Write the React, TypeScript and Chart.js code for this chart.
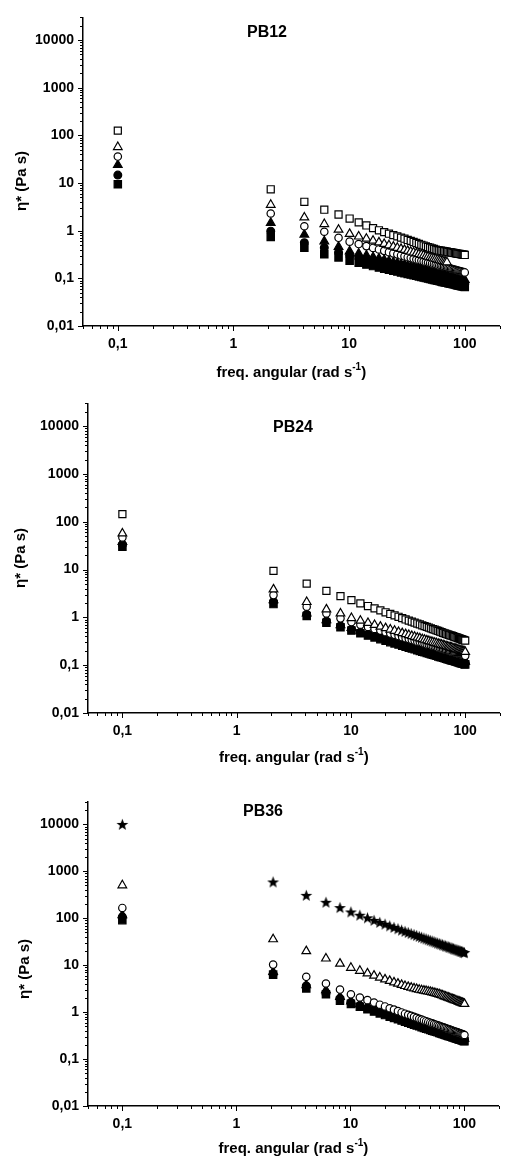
import React, { useEffect, useRef } from 'react';
import { Chart, registerables } from 'chart.js';

Chart.register(...registerables);

// ---------- data ----------
const freq = [0.1, 2.1, 4.1, 6.1, 8.1, 10.1, 12.1, 14.1, 16.1, 18.1, 20.1, 22.1, 24.1, 26.1, 28.1, 30.1, 32.1, 34.1, 36.1, 38.1, 40.1, 42.1, 44.1, 46.1, 48.1, 50.1, 52.1, 54.1, 56.1, 58.1, 60.1, 62.1, 64.1, 66.1, 68.1, 70.1, 72.1, 74.1, 76.1, 78.1, 80.1, 82.1, 84.1, 86.1, 88.1, 90.1, 92.1, 94.1, 96.1, 98.1, 100];

const xTickValues = [0.1, 1, 10, 100];
const xTickLabels = ['0,1', '1', '10', '100'];
const yTickValues = [0.01, 0.1, 1, 10, 100, 1000, 10000];
const yTickLabels = ['0,01', '0,1', '1', '10', '100', '1000', '10000'];

const panelTitles = ['PB12', 'PB24', 'PB36'];
const xAxisTitle = 'freq. angular (rad s';
const xAxisTitleSup = '-1';
const yAxisTitle = 'η* (Pa s)';

// PB12
const pb12SqOpen = [126, 7.4, 4.05, 2.76, 2.19, 1.8, 1.5, 1.29, 1.13, 1.02, 0.935, 0.865, 0.81, 0.76, 0.715, 0.68, 0.64, 0.61, 0.58, 0.553, 0.528, 0.507, 0.488, 0.47, 0.454, 0.44, 0.427, 0.414, 0.402, 0.392, 0.385, 0.38, 0.375, 0.371, 0.366, 0.362, 0.357, 0.353, 0.35, 0.345, 0.341, 0.338, 0.334, 0.331, 0.328, 0.325, 0.322, 0.318, 0.315, 0.313, 0.31];
const pb12TriOpen = [57, 3.5, 1.9, 1.38, 1.05, 0.86, 0.756, 0.679, 0.617, 0.568, 0.528, 0.494, 0.464, 0.438, 0.415, 0.396, 0.378, 0.362, 0.348, 0.335, 0.323, 0.312, 0.303, 0.292, 0.284, 0.276, 0.268, 0.261, 0.255, 0.248, 0.243, 0.237, 0.231, 0.227, 0.222, 0.217, null, null, null, null, null, null, null, null, null, null, null, null, null, null, null];
const pb12CirOpen = [36, 2.3, 1.24, 0.95, 0.71, 0.59, 0.525, 0.475, 0.435, 0.404, 0.378, 0.355, 0.335, 0.319, 0.303, 0.29, 0.278, 0.267, 0.258, 0.249, 0.241, 0.233, 0.227, 0.219, 0.214, 0.208, 0.203, 0.198, 0.194, 0.189, 0.185, 0.181, 0.178, 0.174, 0.171, 0.168, 0.165, 0.162, 0.159, 0.156, 0.153, 0.151, 0.149, 0.146, 0.144, 0.142, 0.14, 0.138, 0.136, 0.135, 0.133];
const pb12TriFill = [24, 1.46, 0.83, 0.6, 0.46, 0.37, 0.332, 0.303, 0.279, 0.261, 0.245, 0.231, 0.219, 0.209, 0.2, 0.192, 0.185, 0.178, 0.172, 0.167, 0.162, 0.157, 0.153, 0.149, 0.145, 0.141, 0.138, 0.135, 0.132, 0.13, 0.127, 0.125, 0.122, 0.12, 0.118, 0.116, 0.114, 0.112, 0.11, 0.108, 0.107, 0.105, 0.104, 0.102, 0.101, 0.0995, 0.098, 0.097, 0.096, 0.094, 0.093];
const pb12CirFill = [14.7, 0.98, 0.56, 0.44, 0.35, 0.3, 0.269, 0.245, 0.227, 0.212, 0.199, 0.188, 0.178, 0.17, 0.162, 0.156, 0.15, 0.145, 0.14, 0.135, 0.131, 0.128, 0.124, 0.121, 0.118, 0.115, 0.112, 0.11, 0.107, 0.105, 0.103, 0.101, 0.099, 0.097, 0.095, 0.094, 0.092, 0.091, 0.089, 0.088, 0.086, 0.085, 0.084, 0.083, 0.082, 0.081, 0.08, 0.079, 0.078, 0.077, 0.076];
const pb12SqFill = [9.4, 0.74, 0.44, 0.32, 0.275, 0.234, 0.212, 0.195, 0.181, 0.169, 0.16, 0.152, 0.145, 0.139, 0.133, 0.128, 0.124, 0.12, 0.116, 0.113, 0.11, 0.107, 0.104, 0.102, 0.099, 0.097, 0.095, 0.093, 0.091, 0.089, 0.088, 0.086, 0.084, 0.083, 0.082, 0.0805, 0.079, 0.078, 0.077, 0.076, 0.075, 0.074, 0.073, 0.072, 0.071, 0.07, 0.069, 0.0686, 0.068, 0.067, 0.066];

// PB24
const pb24SqOpen = [145, 9.4, 5.1, 3.6, 2.79, 2.3, 1.97, 1.73, 1.54, 1.4, 1.28, 1.18, 1.1, 1.03, 0.964, 0.906, 0.858, 0.817, 0.777, 0.745, 0.713, 0.683, 0.658, 0.633, 0.61, 0.589, 0.57, 0.552, 0.536, 0.52, 0.504, 0.49, 0.476, 0.465, 0.453, 0.442, 0.432, 0.423, 0.414, 0.405, 0.396, 0.388, 0.38, 0.373, 0.366, 0.359, 0.352, 0.345, 0.338, 0.333, 0.327];
const pb24TriOpen = [57, 3.85, 2.1, 1.47, 1.21, 0.97, 0.853, 0.765, 0.696, 0.641, 0.596, 0.557, 0.524, 0.494, 0.469, 0.446, 0.427, 0.408, 0.393, 0.377, 0.365, 0.352, 0.341, 0.33, 0.32, 0.311, 0.303, 0.294, 0.287, 0.279, 0.274, 0.267, 0.261, 0.256, 0.25, 0.244, 0.241, 0.236, 0.231, 0.227, 0.223, 0.219, 0.215, 0.211, 0.209, 0.205, 0.202, 0.199, 0.196, 0.193, 0.19];
const pb24CirOpen = [47, 2.93, 1.67, 1.21, 0.955, 0.8, 0.703, 0.631, 0.574, 0.529, 0.491, 0.459, 0.432, 0.407, 0.386, 0.368, 0.352, 0.337, 0.324, 0.311, 0.301, 0.29, 0.282, 0.272, 0.264, 0.257, 0.25, 0.242, 0.237, 0.23, 0.226, 0.22, 0.215, 0.211, 0.206, 0.202, 0.198, 0.194, 0.19, 0.187, 0.184, 0.181, 0.178, 0.174, 0.172, 0.169, 0.166, 0.164, 0.162, 0.159, 0.157];
const pb24TriFill = [38, 2.3, 1.21, 0.88, 0.69, 0.6, 0.527, 0.473, 0.431, 0.397, 0.368, 0.344, 0.324, 0.305, 0.29, 0.276, 0.264, 0.253, 0.243, 0.233, 0.226, 0.218, 0.211, 0.204, 0.198, 0.193, 0.187, 0.182, 0.178, 0.173, 0.169, 0.165, 0.161, 0.158, 0.155, 0.151, 0.149, 0.146, 0.143, 0.14, 0.138, 0.136, 0.133, 0.131, 0.129, 0.127, 0.125, 0.123, 0.121, 0.119, 0.118];
const pb24CirFill = [33, 2.13, 1.15, 0.83, 0.66, 0.56, 0.492, 0.442, 0.402, 0.37, 0.344, 0.321, 0.302, 0.285, 0.27, 0.258, 0.246, 0.236, 0.227, 0.218, 0.211, 0.203, 0.197, 0.19, 0.185, 0.18, 0.175, 0.17, 0.166, 0.161, 0.158, 0.154, 0.151, 0.148, 0.144, 0.141, 0.139, 0.136, 0.133, 0.131, 0.129, 0.127, 0.124, 0.122, 0.12, 0.118, 0.116, 0.115, 0.113, 0.111, 0.11];
const pb24SqFill = [30, 1.9, 1.07, 0.77, 0.62, 0.53, 0.466, 0.418, 0.381, 0.35, 0.325, 0.304, 0.286, 0.27, 0.256, 0.244, 0.233, 0.223, 0.215, 0.206, 0.199, 0.192, 0.187, 0.18, 0.175, 0.17, 0.165, 0.161, 0.157, 0.153, 0.149, 0.146, 0.143, 0.14, 0.137, 0.134, 0.131, 0.129, 0.126, 0.124, 0.122, 0.12, 0.118, 0.116, 0.114, 0.112, 0.11, 0.109, 0.107, 0.105, 0.104];

// PB36
const pb36Star = [10000, 593, 308, 219, 169, 136, 116, 102, 90.4, 81.7, 74.8, 68.8, 63.8, 59.6, 55.8, 52.5, 49.6, 47.2, 44.9, 42.8, 40.9, 39.3, 37.7, 36.3, 35, 33.7, 32.6, 31.6, 30.6, 29.6, 28.8, 28, 27.2, 26.5, 25.8, 25.2, 24.6, 24.1, 23.5, 23, 22.4, 21.9, 21.5, 21.1, 20.7, 20.3, 19.9, 19.6, 19.2, 18.8, 18.5];
const pb36TriOpen = [504, 35.7, 19.9, 13.9, 10.8, 8.8, 7.59, 6.7, 6.0, 5.45, 5.0, 4.63, 4.31, 4.05, 3.81, 3.6, 3.45, 3.32, 3.2, 3.1, 3.0, 2.93, 2.87, 2.81, 2.75, 2.7, 2.63, 2.57, 2.51, 2.45, 2.4, 2.33, 2.26, 2.2, 2.14, 2.09, 2.04, 1.99, 1.94, 1.89, 1.85, 1.81, 1.77, 1.73, 1.69, 1.66, 1.62, 1.59, 1.56, 1.53, 1.5];
const pb36CirOpen = [166, 10.3, 5.65, 4.07, 3.03, 2.4, 2.05, 1.8, 1.6, 1.44, 1.32, 1.21, 1.13, 1.05, 0.984, 0.926, 0.876, 0.833, 0.792, 0.756, 0.722, 0.694, 0.665, 0.641, 0.617, 0.595, 0.576, 0.557, 0.54, 0.523, 0.509, 0.494, 0.48, 0.468, 0.456, 0.444, 0.434, 0.425, 0.415, 0.406, 0.396, 0.386, 0.379, 0.372, 0.365, 0.358, 0.35, 0.346, 0.338, 0.331, 0.326];
const pb36TriFill = [116, 7.2, 3.75, 2.94, 2.12, 1.7, 1.47, 1.3, 1.17, 1.07, 0.981, 0.91, 0.848, 0.796, 0.75, 0.709, 0.673, 0.643, 0.614, 0.587, 0.564, 0.542, 0.524, 0.503, 0.488, 0.471, 0.457, 0.444, 0.432, 0.42, 0.408, 0.398, 0.388, 0.377, 0.369, 0.36, 0.352, 0.345, 0.338, 0.332, 0.325, 0.318, 0.311, 0.306, 0.301, 0.294, 0.291, 0.286, 0.281, 0.275, 0.272];
const pb36CirFill = [107, 6.4, 3.6, 2.5, 1.95, 1.6, 1.38, 1.23, 1.1, 1.0, 0.923, 0.856, 0.798, 0.749, 0.706, 0.667, 0.634, 0.605, 0.578, 0.552, 0.531, 0.51, 0.493, 0.474, 0.459, 0.443, 0.43, 0.418, 0.406, 0.395, 0.384, 0.374, 0.365, 0.355, 0.347, 0.339, 0.331, 0.325, 0.318, 0.312, 0.306, 0.299, 0.293, 0.288, 0.283, 0.277, 0.274, 0.269, 0.264, 0.259, 0.256];
const pb36SqFill = [91, 6.3, 3.2, 2.4, 1.74, 1.5, 1.3, 1.15, 1.03, 0.94, 0.866, 0.803, 0.749, 0.702, 0.662, 0.626, 0.594, 0.567, 0.542, 0.518, 0.498, 0.479, 0.462, 0.444, 0.431, 0.416, 0.404, 0.392, 0.381, 0.371, 0.36, 0.351, 0.342, 0.333, 0.326, 0.318, 0.311, 0.305, 0.299, 0.293, 0.287, 0.281, 0.275, 0.27, 0.266, 0.26, 0.257, 0.252, 0.248, 0.243, 0.24];

// ---------- layout / style ----------
const FONT = '"Liberation Sans", Arial, Helvetica, sans-serif';
const CW = 506;
const CH = 386;

type Marker = 'sqOpen' | 'triOpen' | 'cirOpen' | 'triFill' | 'cirFill' | 'sqFill' | 'star';

interface Panel {
  title: string;
  series: { data: (number | null)[]; marker: Marker }[];
  top: number;
  area: { left: number; top: number; right: number; bottom: number };
  titleXY: [number, number];
  yTitleXY: [number, number];
  xTitleY: number;
}

const panels: Panel[] = [
  {
    title: panelTitles[0],
    series: [
      { data: pb12SqOpen, marker: 'sqOpen' },
      { data: pb12TriOpen, marker: 'triOpen' },
      { data: pb12CirOpen, marker: 'cirOpen' },
      { data: pb12TriFill, marker: 'triFill' },
      { data: pb12CirFill, marker: 'cirFill' },
      { data: pb12SqFill, marker: 'sqFill' },
    ],
    top: 0,
    area: { left: 83, top: 14, right: 505, bottom: 326 },
    titleXY: [267, 33],
    yTitleXY: [22, 181],
    xTitleY: 373,
  },
  {
    title: panelTitles[1],
    series: [
      { data: pb24SqOpen, marker: 'sqOpen' },
      { data: pb24TriOpen, marker: 'triOpen' },
      { data: pb24CirOpen, marker: 'cirOpen' },
      { data: pb24TriFill, marker: 'triFill' },
      { data: pb24CirFill, marker: 'cirFill' },
      { data: pb24SqFill, marker: 'sqFill' },
    ],
    top: 386,
    area: { left: 88, top: 17, right: 505, bottom: 327 },
    titleXY: [293, 42],
    yTitleXY: [21, 172],
    xTitleY: 372,
  },
  {
    title: panelTitles[2],
    series: [
      { data: pb36Star, marker: 'star' },
      { data: pb36TriOpen, marker: 'triOpen' },
      { data: pb36CirOpen, marker: 'cirOpen' },
      { data: pb36TriFill, marker: 'triFill' },
      { data: pb36CirFill, marker: 'cirFill' },
      { data: pb36SqFill, marker: 'sqFill' },
    ],
    top: 772,
    area: { left: 88, top: 30, right: 499, bottom: 334 },
    titleXY: [263, 40],
    yTitleXY: [25, 197],
    xTitleY: 377,
  },
];

function makeStar(): HTMLCanvasElement {
  const c = document.createElement('canvas');
  c.width = 13;
  c.height = 13;
  const ctx = c.getContext('2d') as CanvasRenderingContext2D;
  ctx.beginPath();
  for (let i = 0; i < 10; i++) {
    const r = i % 2 === 0 ? 6.2 : 2.6;
    const a = -Math.PI / 2 + (i * Math.PI) / 5;
    const px = 6.5 + r * Math.cos(a);
    const py = 7 + r * Math.sin(a);
    if (i === 0) ctx.moveTo(px, py);
    else ctx.lineTo(px, py);
  }
  ctx.closePath();
  ctx.fillStyle = '#000';
  ctx.fill();
  return c;
}

function markerStyle(m: Marker, star: HTMLCanvasElement) {
  switch (m) {
    case 'sqOpen':
      return { pointStyle: 'rect', pointRadius: 5, backgroundColor: '#fff' };
    case 'triOpen':
      return { pointStyle: 'triangle', pointRadius: 5, backgroundColor: '#fff' };
    case 'cirOpen':
      return { pointStyle: 'circle', pointRadius: 3.7, backgroundColor: '#fff' };
    case 'triFill':
      return { pointStyle: 'triangle', pointRadius: 5, backgroundColor: '#000' };
    case 'cirFill':
      return { pointStyle: 'circle', pointRadius: 3.9, backgroundColor: '#000' };
    case 'sqFill':
      return { pointStyle: 'rect', pointRadius: 5.2, backgroundColor: '#000' };
    default:
      return { pointStyle: star as any, pointRadius: 6, backgroundColor: '#000' };
  }
}

function labelFor(v: number, values: number[], labels: string[]) {
  for (let i = 0; i < values.length; i++) {
    if (Math.abs(Math.log10(v) - Math.log10(values[i])) < 1e-6) return labels[i];
  }
  return '';
}

const decorPlugin = {
  id: 'decor',
  afterDraw(chart: any) {
    const o = chart.options.plugins.decor;
    if (!o) return;
    const ctx: CanvasRenderingContext2D = chart.ctx;
    const { left, right, bottom } = chart.chartArea;
    const xs = chart.scales.x;
    const ys = chart.scales.y;
    ctx.save();
    ctx.strokeStyle = '#000';
    ctx.lineWidth = 1;
    // x ticks (major 1·10^n longer, minor 2..9·10^n shorter)
    for (let e = -2; e <= 3; e++) {
      for (let m = 1; m <= 9; m++) {
        const v = m * Math.pow(10, e);
        if (v < xs.min * 0.999 || v > xs.max * 1.001) continue;
        const px = Math.round(xs.getPixelForValue(v)) + 0.5;
        const len = m === 1 ? 5 : 3;
        ctx.beginPath();
        ctx.moveTo(px, bottom);
        ctx.lineTo(px, bottom + len);
        ctx.stroke();
      }
    }
    // y ticks
    for (let e = -2; e <= 5; e++) {
      for (let m = 1; m <= 9; m++) {
        const v = m * Math.pow(10, e);
        if (v < ys.min * 0.999 || v > ys.max * 1.001) continue;
        const py = Math.round(ys.getPixelForValue(v)) + 0.5;
        const len = m === 1 ? 5 : 3;
        ctx.beginPath();
        ctx.moveTo(left, py);
        ctx.lineTo(left - len, py);
        ctx.stroke();
      }
    }
    ctx.fillStyle = '#000';
    // panel title
    ctx.font = `bold 16px ${FONT}`;
    ctx.textAlign = 'center';
    ctx.textBaseline = 'middle';
    ctx.fillText(o.title, o.titleXY[0], o.titleXY[1]);
    // y title
    ctx.save();
    ctx.translate(o.yTitleXY[0], o.yTitleXY[1]);
    ctx.rotate(-Math.PI / 2);
    ctx.font = `bold 15px ${FONT}`;
    ctx.fillText(yAxisTitle, 0, 0);
    ctx.restore();
    // x title with superscript
    ctx.font = `bold 15px ${FONT}`;
    const w1 = ctx.measureText(xAxisTitle).width;
    const w3 = ctx.measureText(')').width;
    ctx.font = `bold 10px ${FONT}`;
    const w2 = ctx.measureText(xAxisTitleSup).width;
    const total = w1 + w2 + w3;
    let x0 = (left + right) / 2 - total / 2;
    ctx.textAlign = 'left';
    ctx.font = `bold 15px ${FONT}`;
    ctx.fillText(xAxisTitle, x0, o.xTitleY);
    x0 += w1;
    ctx.font = `bold 10px ${FONT}`;
    ctx.fillText(xAxisTitleSup, x0, o.xTitleY - 6);
    x0 += w2;
    ctx.font = `bold 15px ${FONT}`;
    ctx.fillText(')', x0, o.xTitleY);
    ctx.restore();
  },
};

function PanelChart({ panel }: { panel: Panel }) {
  const ref = useRef<HTMLCanvasElement | null>(null);
  useEffect(() => {
    if (!ref.current) return;
    const star = makeStar();
    const datasets = panel.series.map((s) => {
      const st = markerStyle(s.marker, star);
      return {
        data: freq
          .map((f, i) => ({ x: f, y: s.data[i] }))
          .filter((p) => p.y !== null && p.y !== undefined),
        showLine: false,
        pointStyle: st.pointStyle,
        pointRadius: st.pointRadius,
        pointHoverRadius: st.pointRadius,
        pointBackgroundColor: st.backgroundColor,
        pointBorderColor: '#000',
        pointBorderWidth: 1.2,
        backgroundColor: st.backgroundColor,
        borderColor: '#000',
        borderWidth: 1.2,
      };
    });
    const a = panel.area;
    const tickFont = { family: FONT, size: 14, weight: 'bold' as const };
    const chart = new Chart(ref.current, {
      type: 'scatter',
      data: { datasets: datasets as any },
      plugins: [decorPlugin as any],
      options: {
        animation: false,
        responsive: false,
        maintainAspectRatio: false,
        events: [],
        layout: {
          padding: { left: 0, top: a.top, right: CW - a.right, bottom: CH - a.bottom - 40 },
        },
        plugins: {
          legend: { display: false },
          tooltip: { enabled: false },
          decor: {
            title: panel.title,
            titleXY: panel.titleXY,
            yTitleXY: panel.yTitleXY,
            xTitleY: panel.xTitleY,
          },
        } as any,
        scales: {
          x: {
            type: 'logarithmic',
            position: 'bottom',
            min: 0.05,
            max: 200,
            afterBuildTicks: (s: any) => {
              s.ticks = xTickValues.map((v) => ({ value: v }));
            },
            afterFit: (s: any) => {
              s.height = 40;
            },
            grid: { display: false, drawTicks: false, tickLength: 0 },
            border: { display: true, color: '#000', width: 1.5 },
            title: { display: false },
            ticks: {
              autoSkip: false,
              maxRotation: 0,
              minRotation: 0,
              padding: 10,
              color: '#000',
              font: tickFont,
              callback: (v: any) => labelFor(Number(v), xTickValues, xTickLabels),
            },
          },
          y: {
            type: 'logarithmic',
            position: 'left',
            min: 0.01,
            max: 30000,
            afterBuildTicks: (s: any) => {
              s.ticks = yTickValues.map((v) => ({ value: v }));
            },
            afterFit: (s: any) => {
              s.width = a.left;
            },
            grid: { display: false, drawTicks: false, tickLength: 0 },
            border: { display: true, color: '#000', width: 1.5 },
            title: { display: false },
            ticks: {
              autoSkip: false,
              padding: 9,
              color: '#000',
              font: tickFont,
              callback: (v: any) => labelFor(Number(v), yTickValues, yTickLabels),
            },
          },
        },
      } as any,
    });
    return () => chart.destroy();
  }, [panel]);
  return (
    <div style={{ position: 'absolute', left: 0, top: panel.top, width: CW, height: CH }}>
      <canvas ref={ref} width={CW} height={CH} style={{ display: 'block', width: CW, height: CH }} />
    </div>
  );
}

export default function App() {
  return (
    <div style={{ position: 'absolute', left: 0, top: 0, width: CW, height: 1158, background: '#fff' }}>
      {panels.map((p) => (
        <PanelChart key={p.title} panel={p} />
      ))}
    </div>
  );
}
